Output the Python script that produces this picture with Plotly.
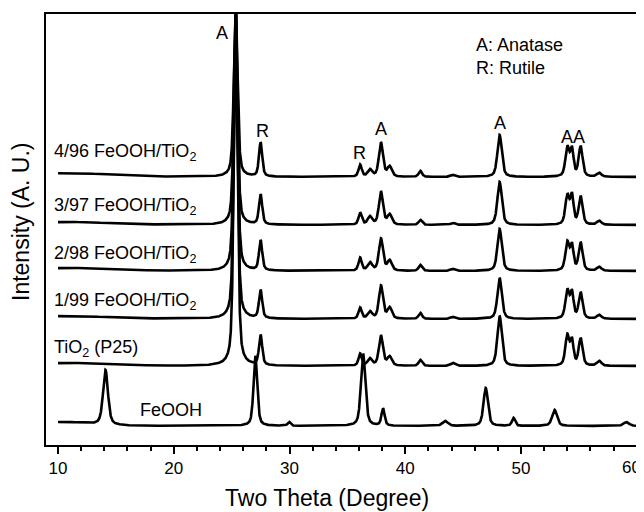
import numpy as np
import plotly.graph_objects as go

# ---------------- data ----------------
two_theta = np.round(np.arange(10.0, 60.001, 0.01), 3)

series_names = ["FeOOH", "TiO<sub>2</sub> (P25)", "1/99 FeOOH/TiO<sub>2</sub>",
                "2/98 FeOOH/TiO<sub>2</sub>", "3/97 FeOOH/TiO<sub>2</sub>",
                "4/96 FeOOH/TiO<sub>2</sub>"]
series_offsets = [19, 79, 126, 174, 220, 268]

# peak positions (deg), heights (a.u.), widths (FWHM, deg)
feooh_pos = [10.5, 14.1, 27.05, 29.96, 36.36, 38.08, 43.45, 46.95, 49.35, 52.9, 59.1]
feooh_hgt = [4, 55, 70, 4, 72, 17, 5, 38, 8, 16, 4]
feooh_fwh = [5.0, 0.5, 0.38, 0.3, 0.45, 0.32, 0.55, 0.45, 0.32, 0.5, 0.55]

tio2_pos = [11.0, 25.35, 27.5, 36.1, 36.95, 37.9, 38.65, 41.3, 44.1, 48.15, 54.0, 54.4, 55.15, 56.75]
p25_hgt = [3, 350, 30, 12, 7, 30, 9, 6, 3, 50, 30, 24, 27, 5]
s199_hgt = [3, 300, 28, 11, 7, 33, 11, 6, 2, 41, 28, 25, 26, 4]
s298_hgt = [3, 260, 30, 13, 8, 32, 10, 6, 2, 42, 28, 24, 28, 4]
s397_hgt = [3, 215, 30, 12, 8, 33, 10, 5, 2, 43, 29, 28, 28, 4]
s496_hgt = [4, 170, 34, 12, 7, 34, 10, 6, 2, 42, 29, 26, 30, 4]
tio2_fwh = [8.0, 0.38, 0.33, 0.33, 0.45, 0.42, 0.45, 0.35, 0.45, 0.45, 0.4, 0.33, 0.4, 0.45]

x_ticks = [10, 20, 30, 40, 50, 60]
x_tick_labels = ["10", "20", "30", "40", "50", "60"]


def profile(x, pos, hgt, fwh, eta=0.5):
    y = np.zeros_like(x, dtype=float)
    for p, h, w in zip(pos, hgt, fwh):
        hw = w / 2.0
        lor = 1.0 / (1.0 + ((x - p) / hw) ** 2)
        gau = np.exp(-np.log(2) * ((x - p) / hw) ** 2)
        y += h * (eta * lor + (1 - eta) * gau)
    return y


curves = [
    profile(two_theta, feooh_pos, feooh_hgt, feooh_fwh),
    profile(two_theta, tio2_pos, p25_hgt, tio2_fwh),
    profile(two_theta, tio2_pos, s199_hgt, tio2_fwh),
    profile(two_theta, tio2_pos, s298_hgt, tio2_fwh),
    profile(two_theta, tio2_pos, s397_hgt, tio2_fwh),
    profile(two_theta, tio2_pos, s496_hgt, tio2_fwh),
]

fig = go.Figure()
for name, off, c in zip(series_names, series_offsets, curves):
    fig.add_trace(go.Scatter(x=two_theta, y=c + off, mode="lines", name=name,
                             line=dict(color="black", width=2.6),
                             showlegend=False, hoverinfo="skip"))

FONT = "Liberation Sans, Arial, Helvetica, sans-serif"
ann = []
# the page body has an 8 px margin; plot area spans screen px 46..637 x 14..445
W0, H0 = 591.0, 431.0
def px(xp):
    return (xp - 46) / W0
def py(yp):
    return (445 - yp) / H0

label_y_px = [410, 348, 301, 255, 206, 152]
label_x_px = [138, 52, 52, 52, 52, 52]
for name, xp, yp in zip(series_names, label_x_px, label_y_px):
    ann.append(dict(text=name, xref="paper", yref="paper", x=px(xp), y=py(yp),
                    xanchor="left", yanchor="middle", showarrow=False,
                    font=dict(size=18, color="black", family=FONT)))

peak_marks = [("A", 222, 33), ("R", 262, 131), ("R", 359, 153),
              ("A", 381, 129), ("A", 500, 123), ("AA", 573, 137)]
for t, xp, yp in peak_marks:
    ann.append(dict(text=t, xref="paper", yref="paper", x=px(xp), y=py(yp),
                    xanchor="center", yanchor="middle", showarrow=False,
                    font=dict(size=18, color="black", family=FONT)))

ann.append(dict(text="A: Anatase<br>R: Rutile", xref="paper", yref="paper",
                x=px(474), y=py(57), xanchor="left", yanchor="middle", align="left",
                showarrow=False, font=dict(size=18, color="black", family=FONT)))

ann.append(dict(text="Two Theta (Degree)", xref="paper", yref="paper",
                x=px(327), y=py(498), xanchor="center", yanchor="middle",
                showarrow=False, font=dict(size=23, color="black", family=FONT)))
ann.append(dict(text="Intensity (A. U.)", xref="paper", yref="paper",
                x=px(21), y=py(222), xanchor="center", yanchor="middle",
                textangle=-90, showarrow=False,
                font=dict(size=23, color="black", family=FONT)))
# last tick label sits flush with the right edge, as in the reference
ann.append(dict(text=x_tick_labels[-1], xref="paper", yref="paper",
                x=px(643), y=py(467), xanchor="right", yanchor="middle",
                showarrow=False, font=dict(size=17, color="black", family=FONT)))

BODY = 8
fig.update_layout(
    width=644 - BODY, height=512 - BODY,
    margin=dict(l=46 - BODY, r=644 - 637, t=14 - BODY, b=512 - 445, pad=0,
                autoexpand=False),
    paper_bgcolor="white", plot_bgcolor="white",
    annotations=ann,
    font=dict(family=FONT, color="black"),
)
fig.update_xaxes(range=[8.96, 60.02], showgrid=False, zeroline=False,
                 showline=True, linecolor="black", linewidth=2, mirror=True,
                 tickmode="array", tickvals=x_ticks,
                 ticktext=x_tick_labels[:-1] + [""],
                 ticks="outside", ticklen=7, tickwidth=1.5, tickcolor="black",
                 automargin=False,
                 tickfont=dict(size=17, color="black", family=FONT),
                 minor=dict(dtick=2, tick0=0, ticks="outside", ticklen=4,
                            tickwidth=1.5, tickcolor="black"))
fig.update_yaxes(range=[0, 431], showgrid=False, zeroline=False,
                 showline=True, linecolor="black", linewidth=2, mirror=True,
                 showticklabels=False, ticks="")

fig.write_html("out.html")
